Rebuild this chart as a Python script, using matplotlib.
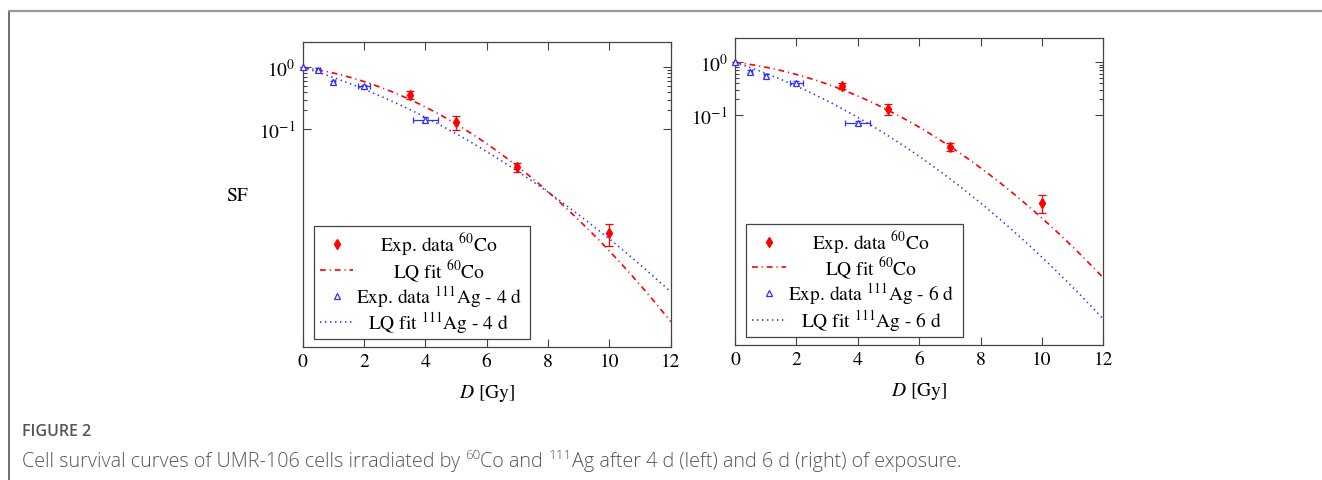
import numpy as np
import matplotlib
matplotlib.use("Agg")
import matplotlib.pyplot as plt
from matplotlib.lines import Line2D
from matplotlib.patches import Rectangle
from matplotlib.ticker import FixedLocator, NullFormatter

plt.rcParams["font.family"] = ["STIXGeneral", "DejaVu Sans"]
plt.rcParams["mathtext.fontset"] = "stix"
plt.rcParams["lines.scale_dashes"] = False

# ---- measured survival fractions -------------------------------------------
co_dose = [3.5, 5.0, 7.0, 10.0]
co_sf = [0.36, 0.13, 0.0245, 0.0021]
co_sf_err = [0.05, 0.032, 0.004, 0.0008]

ag4_dose = [0.0, 0.5, 1.0, 2.0, 4.0]
ag4_sf = [1.0, 0.91, 0.57, 0.49, 0.142]
ag4_sf_err = [0.0, 0.05, 0.04, 0.035, 0.012]
ag4_dose_err = [0.0, 0.06, 0.05, 0.2, 0.4]

ag6_dose = [0.0, 0.5, 1.0, 2.0, 4.0]
ag6_sf = [1.0, 0.66, 0.55, 0.41, 0.069]
ag6_sf_err = [0.0, 0.04, 0.04, 0.03, 0.006]
ag6_dose_err = [0.0, 0.05, 0.05, 0.2, 0.4]

# ---- linear-quadratic fit parameters (alpha [1/Gy], beta [1/Gy^2]) ---------
co_alpha, co_beta = 0.16, 0.0525
ag4_alpha, ag4_beta = 0.35, 0.029
ag6_alpha, ag6_beta = 0.437, 0.042

x_ticks = [0, 2, 4, 6, 8, 10, 12]
y_major = [0.1, 1.0]
y_minor = [0.2, 0.3, 0.4, 0.5, 0.6, 0.7, 0.8, 0.9]

RED = "#ff0000"
BLUE = "#3030ff"
FRAME = "#444444"
DASHDOT = (0, (4.2, 2.8, 0.8, 2.8))
DOTTED = (0, (1.0, 2.6))
FS = 14


def lq(dose, alpha, beta):
    return np.exp(-alpha * dose - beta * dose ** 2)


W, H = 1322, 481
fig = plt.figure(figsize=(W / 100, H / 100), dpi=100)


def px_axes(x0, y0, x1, y1):
    return fig.add_axes([x0 / W, 1 - y1 / H, (x1 - x0) / W, (y1 - y0) / H])


def style_axes(ax, ylim):
    ax.set_yscale("log")
    ax.set_xlim(0, 12)
    ax.set_ylim(*ylim)
    ax.xaxis.set_major_locator(FixedLocator(x_ticks))
    ax.set_xticklabels([str(t) for t in x_ticks])
    ax.yaxis.set_major_locator(FixedLocator(y_major))
    ax.set_yticklabels([r"$10^{-1}$", r"$10^{0}$"])
    ax.yaxis.set_minor_locator(FixedLocator(y_minor))
    ax.yaxis.set_minor_formatter(NullFormatter())
    ax.xaxis.set_minor_locator(FixedLocator([]))
    ax.tick_params(which="both", direction="in", top=True, right=True,
                   color=FRAME, width=0.8, labelsize=FS)
    ax.tick_params(which="major", length=5.5)
    ax.tick_params(which="minor", length=3)
    ax.tick_params(axis="x", pad=4)
    ax.tick_params(axis="y", pad=5)
    for s in ax.spines.values():
        s.set_color(FRAME)
        s.set_linewidth(0.9)


def draw_panel(ax, ag_dose, ag_sf, ag_sf_err, ag_dose_err, ag_alpha, ag_beta):
    d = np.linspace(0, 12, 400)
    ax.plot(d, lq(d, co_alpha, co_beta), color=RED, lw=1.2, linestyle=DASHDOT, zorder=2)
    ax.plot(d, lq(d, ag_alpha, ag_beta), color=BLUE, lw=1.2, linestyle=DOTTED, zorder=2)
    ax.errorbar(co_dose, co_sf, yerr=co_sf_err, fmt="d", color=RED, ms=4.6,
                elinewidth=0.9, capsize=3.2, capthick=0.9, zorder=3, clip_on=False)
    ax.errorbar(ag_dose, ag_sf, yerr=ag_sf_err, xerr=ag_dose_err, fmt="^",
                color=BLUE, mfc="white", mec=BLUE, ms=5, mew=0.9,
                elinewidth=0.9, capsize=2.5, capthick=0.9, zorder=3, clip_on=False)


def draw_legend(ax, ag_days):
    ax.add_patch(Rectangle((0.031, 0.027), 0.587, 0.368, transform=ax.transAxes,
                           fc="white", ec=FRAME, lw=0.9, zorder=5))
    rows = [0.337, 0.253, 0.168, 0.081]
    labels = [r"Exp. data $^{60}$Co", r"LQ fit $^{60}$Co",
              r"Exp. data $^{111}$Ag - %d d" % ag_days,
              r"LQ fit $^{111}$Ag - %d d" % ag_days]
    tr = ax.transAxes
    ax.plot([0.092], [rows[0]], "d", color=RED, ms=4.6, transform=tr, zorder=6, clip_on=False)
    ax.plot([0.047, 0.138], [rows[1]] * 2, color=RED, lw=1.2, linestyle=DASHDOT,
            transform=tr, zorder=6, clip_on=False)
    ax.plot([0.092], [rows[2]], "^", mfc="white", mec=BLUE, ms=5, mew=0.9,
            transform=tr, zorder=6, clip_on=False)
    ax.plot([0.047, 0.138], [rows[3]] * 2, color=BLUE, lw=1.2, linestyle=DOTTED,
            transform=tr, zorder=6, clip_on=False)
    for y, lab in zip(rows, labels):
        ax.text(0.370, y, lab, transform=tr, ha="center", va="center",
                fontsize=FS, zorder=7)


ax1 = px_axes(302.7, 42.7, 670.7, 348.0)
style_axes(ax1, (10 ** -4.53, 10 ** 0.415))
draw_panel(ax1, ag4_dose, ag4_sf, ag4_sf_err, ag4_dose_err, ag4_alpha, ag4_beta)
draw_legend(ax1, 4)

ax2 = px_axes(735.0, 39.3, 1103.3, 346.0)
style_axes(ax2, (10 ** -5.4, 10 ** 0.46))
draw_panel(ax2, ag6_dose, ag6_sf, ag6_sf_err, ag6_dose_err, ag6_alpha, ag6_beta)
draw_legend(ax2, 6)

fig.text(237 / W, 1 - 196 / H, "SF", ha="center", va="center", fontsize=FS)
fig.text(486.7 / W, 1 - 394 / H, r"$D$ [Gy]", ha="center", va="center", fontsize=FS)
fig.text(919.2 / W, 1 - 392 / H, r"$D$ [Gy]", ha="center", va="center", fontsize=FS)

# page frame
fig.add_artist(Line2D([9 / W, 9 / W], [0, 1 - 12 / H], color="#555555", lw=1.2,
                      transform=fig.transFigure))
fig.add_artist(Line2D([9 / W, 1], [1 - 12 / H] * 2, color="#999999", lw=1.6,
                      transform=fig.transFigure))

# caption
CAP = ["Open Sans", "DejaVu Sans"]
fig.text(22 / W, 1 - 432 / H, "FIGURE 2", ha="left", va="center", fontsize=11.5,
         family=CAP, color="#555555", weight="semibold")

pieces = [("Cell survival curves of UMR-106 cells irradiated by ", 0),
          ("60", 1), ("Co and ", 0), ("111", 1),
          ("Ag after 4 d (left) and 6 d (right) of exposure.", 0)]
renderer = fig.canvas.get_renderer()
x = 22 / W
base_y = 1 - 467 / H
for txt, sup in pieces:
    t = fig.text(x, base_y + (8 / H if sup else 0), txt, ha="left", va="baseline",
                 fontsize=9.6 if sup else 14.25, family=CAP, color="#555555",
                 weight="light")
    bb = t.get_window_extent(renderer)
    x += bb.width / W

fig.savefig("out.png", dpi=100, facecolor="white")
